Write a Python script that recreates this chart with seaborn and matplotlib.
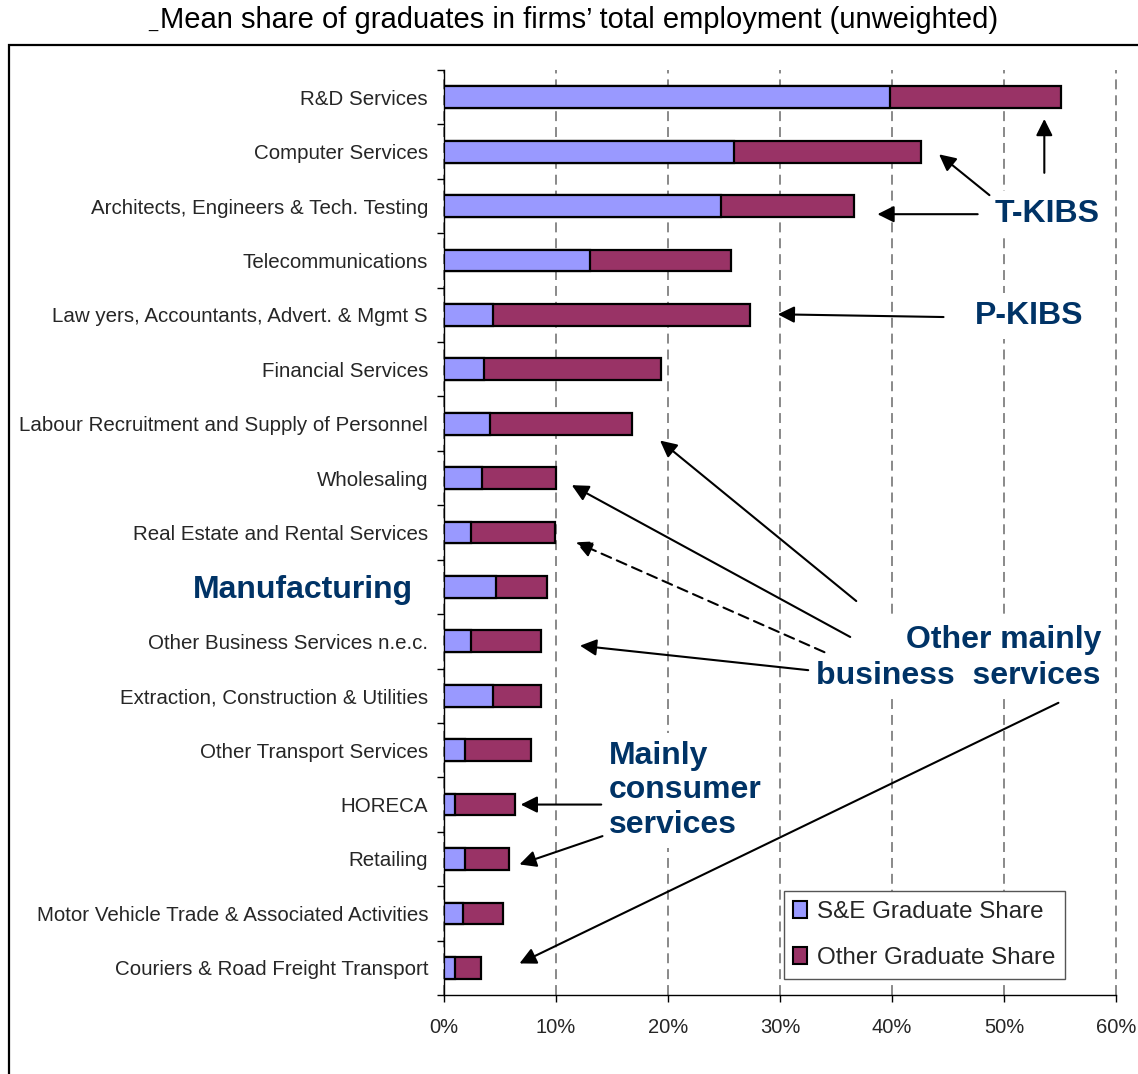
import matplotlib
matplotlib.use("Agg")
import matplotlib.pyplot as plt
import matplotlib.transforms as mtransforms
from matplotlib import font_manager
from matplotlib.patches import Patch, Rectangle
import numpy as np
import pandas as pd
import seaborn as sns

# ---- data -------------------------------------------------------------
sectors = [
    "R&D Services",
    "Computer Services",
    "Architects, Engineers & Tech. Testing",
    "Telecommunications",
    "Law yers, Accountants, Advert. & Mgmt S",
    "Financial Services",
    "Labour Recruitment and Supply of Personnel",
    "Wholesaling",
    "Real Estate and Rental Services",
    "Manufacturing",
    "Other Business Services n.e.c.",
    "Extraction, Construction & Utilities",
    "Other Transport Services",
    "HORECA",
    "Retailing",
    "Motor Vehicle Trade & Associated Activities",
    "Couriers & Road Freight Transport",
]
se_share = [39.8, 25.9, 24.7, 13.0, 4.4, 3.6, 4.1, 3.4, 2.4, 4.6, 2.4, 4.4, 1.9, 1.0, 1.9, 1.7, 1.0]
other_share = [15.3, 16.7, 11.9, 12.6, 22.9, 15.8, 12.7, 6.6, 7.5, 4.6, 6.3, 4.3, 5.9, 5.3, 3.9, 3.6, 2.3]
x_ticks = [0, 10, 20, 30, 40, 50, 60]
legend_labels = ["S&E Graduate Share", "Other Graduate Share"]
title_text = "Mean share of graduates in firms\u2019 total employment (unweighted)"

SE_COLOR = "#9999FF"
OTHER_COLOR = "#993366"
NOTE_COLOR = "#003366"

df = pd.DataFrame({"sector": sectors, "se": se_share, "other": other_share})
df["total"] = df["se"] + df["other"]

# ---- style ------------------------------------------------------------
sns.set_theme(style="white")
available = {f.name for f in font_manager.fontManager.ttflist}
if "Liberation Sans Narrow" in available:
    label_font, label_size, tick_size = "Liberation Sans Narrow", 17.5, 17
else:
    label_font, label_size, tick_size = "Liberation Sans", 14.8, 14.5
plt.rcParams["font.family"] = ["Liberation Sans", "DejaVu Sans"]

W, H = 1138, 1074
fig = plt.figure(figsize=(W / 100, H / 100), dpi=100)
fig.patch.set_facecolor("white")
ax = fig.add_axes([444 / W, 1 - 995 / H, 672 / W, 925 / H])

# stacked horizontal bars: total first, S&E share drawn over it
sns.barplot(data=df, x="total", y="sector", orient="h", color=OTHER_COLOR,
            saturation=1, edgecolor="black", linewidth=1.6, width=0.4,
            ax=ax, zorder=2)
sns.barplot(data=df, x="se", y="sector", orient="h", color=SE_COLOR,
            saturation=1, edgecolor="black", linewidth=1.6, width=0.4,
            ax=ax, zorder=3)

n = len(sectors)
ax.set_xlim(0, 60)
ax.set_ylim(n - 0.5, -0.5)
ax.set_xlabel("")
ax.set_ylabel("")

# axes and ticks
for side in ("top", "right"):
    ax.spines[side].set_visible(False)
for side in ("left", "bottom"):
    ax.spines[side].set_color("black")
    ax.spines[side].set_linewidth(1.0)

ax.set_xticks(x_ticks)
ax.set_xticklabels([f"{v}%" for v in x_ticks], fontfamily=label_font, fontsize=tick_size)
ax.tick_params(axis="x", direction="out", length=5, width=1.0, color="black",
               pad=11.5, bottom=True)
ax.set_yticks(np.arange(n))
ax.set_yticklabels(sectors, fontfamily=label_font, fontsize=label_size)
ax.tick_params(axis="y", which="major", length=0, pad=11.5, left=True)
ax.set_yticks(np.arange(n + 1) - 0.5, minor=True)
ax.tick_params(axis="y", which="minor", direction="out", length=5, width=1.0,
               color="black", left=True)

# Manufacturing is written as a highlighted group label
manu = ax.get_yticklabels()[sectors.index("Manufacturing")]
manu.set_fontfamily("Liberation Sans")
manu.set_fontweight("bold")
manu.set_fontsize(23)
manu.set_color(NOTE_COLOR)
manu.set_transform(manu.get_transform()
                   + mtransforms.ScaledTranslation(-0.15, 0, fig.dpi_scale_trans))

# dashed vertical gridlines
ax.set_axisbelow(True)
ax.xaxis.grid(True, color="#808080", linewidth=1.3, dashes=(5.5, 3.3))
ax.yaxis.grid(False)
for gl in ax.get_xgridlines():
    gl.set_clip_on(False)

# legend
handles = [Patch(facecolor=SE_COLOR, edgecolor="black", linewidth=1.5),
           Patch(facecolor=OTHER_COLOR, edgecolor="black", linewidth=1.5)]
leg = ax.legend(handles, legend_labels, loc="upper left",
                bbox_to_anchor=(783.6 / W, 1 - 891 / H), bbox_transform=fig.transFigure,
                borderaxespad=0, fontsize=17.4, handlelength=0.55, handleheight=0.7,
                handletextpad=0.45, borderpad=0.4, labelspacing=1.0,
                fancybox=False, framealpha=1, edgecolor="#555555")
leg.get_frame().set_linewidth(1.0)
for t in leg.get_texts():
    t.set_fontfamily("Liberation Sans")

# group annotations
note_kw = dict(color=NOTE_COLOR, fontsize=23, fontweight="bold", zorder=4,
               bbox=dict(boxstyle="square,pad=0.25", facecolor="white", edgecolor="none"))
ax.text(49.13, 2.15, "T-KIBS", ha="left", va="center", **note_kw)
ax.text(47.41, 4.03, "P-KIBS", ha="left", va="center", **note_kw)
ax.text(58.66, 10.3, "Other mainly\nbusiness  services", ha="right", va="center",
        multialignment="right", linespacing=1.25, **note_kw)
ax.text(14.69, 12.74, "Mainly\nconsumer\nservices", ha="left", va="center",
        multialignment="left", linespacing=1.2, **note_kw)

arrows = [
    # (tail, head, dashed)
    ((53.6, 1.39), (53.6, 0.40), False),
    ((48.7, 1.80), (44.2, 1.05), False),
    ((47.65, 2.15), (38.7, 2.15), False),
    ((44.6, 4.04), (29.8, 3.99), False),
    ((36.81, 9.26), (19.29, 6.31), False),
    ((36.27, 9.92), (11.41, 7.13), False),
    ((33.97, 10.20), (11.78, 8.18), True),
    ((32.52, 10.53), (12.14, 10.08), False),
    ((54.86, 11.13), (6.74, 15.92), False),
    ((14.04, 13.0), (6.85, 13.0), False),
    ((14.15, 13.58), (6.74, 14.10), False),
]
for tail, head, dashed in arrows:
    ax.annotate("", xy=head, xytext=tail, xycoords="data", textcoords="data",
                annotation_clip=False, zorder=5,
                arrowprops=dict(arrowstyle="-|>", color="black", lw=1.5,
                                mutation_scale=25, shrinkA=0, shrinkB=0,
                                linestyle=(0, (5, 3)) if dashed else "-"))

# title and frame
fig.text(579 / W, 1 - 28.5 / H, title_text, ha="center", va="baseline",
         fontsize=21, color="black")
fig.text(148 / W, 1 - 28.5 / H, "_", ha="left", va="baseline", fontsize=12, color="black")
fig.add_artist(Rectangle((9 / W, -0.1), 1.2, 1 - 45 / H + 0.1, transform=fig.transFigure,
                         fill=False, edgecolor="black", linewidth=1.6))

fig.savefig("out.png", dpi=100, facecolor="white")
